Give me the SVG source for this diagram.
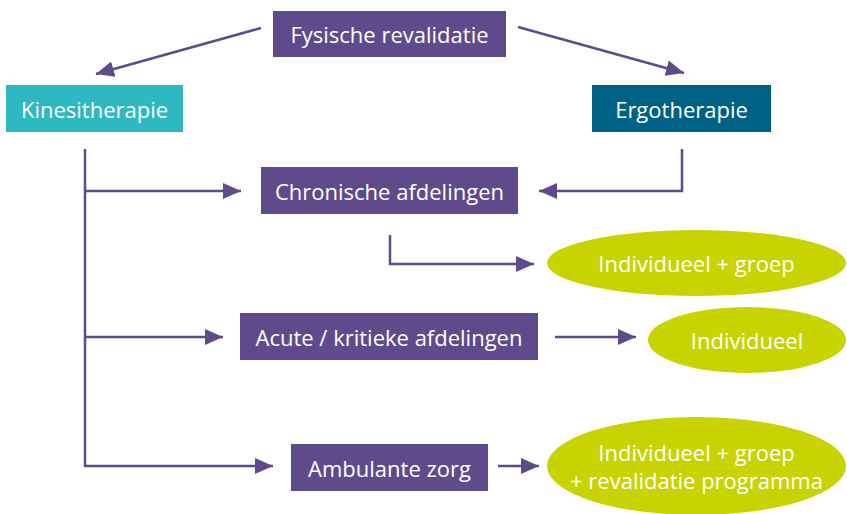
<svg xmlns="http://www.w3.org/2000/svg" width="847" height="514" viewBox="0 0 847 514">
<style>
.lbl{font-family:"Open Sans","Liberation Sans",sans-serif;font-size:22px;fill:#ffffff;text-anchor:middle;dominant-baseline:central}
.box{fill:#5f4b8b}
.ell{fill:#c8d400}
.con{fill:none;stroke:#5f4b8b;stroke-width:2.5;marker-end:url(#ah)}
</style>
<defs>
<marker id="ah" markerUnits="userSpaceOnUse" markerWidth="20" markerHeight="16" refX="18" refY="8" orient="auto">
<path d="M0,0 L18,8 L0,16 Z" fill="#5f4b8b"/>
</marker>
</defs>
<rect width="847" height="514" fill="#ffffff"/>
<g id="connectors">
<path class="con" d="M261,28 L96,74"/>
<path class="con" d="M518,27 L684,73"/>
<path class="con" d="M85,149 L85,466 L273,466"/>
<path class="con" d="M85,191 L241,191"/>
<path class="con" d="M85,337 L223,337"/>
<path class="con" d="M682,149 L682,191 L539,191"/>
<path class="con" d="M390,235 L390,264 L534,264"/>
<path class="con" d="M555,337 L636,337"/>
<path class="con" d="M498,466 L539,466"/>
</g>
<g id="fysische">
<rect class="box" x="273" y="11" width="233" height="46"/>
<text class="lbl" x="389.5" y="34">Fysische revalidatie</text>
</g>
<g id="kinesitherapie">
<rect x="6" y="85" width="177" height="47" fill="#2eb8c2"/>
<text class="lbl" x="94.5" y="108.5">Kinesitherapie</text>
</g>
<g id="ergotherapie">
<rect x="592" y="85" width="179" height="47" fill="#006186"/>
<text class="lbl" x="681.5" y="108.5">Ergotherapie</text>
</g>
<g id="chronische">
<rect class="box" x="261" y="167" width="257" height="47"/>
<text class="lbl" x="389.5" y="190.5">Chronische afdelingen</text>
</g>
<g id="acute">
<rect class="box" x="240" y="313" width="298" height="47"/>
<text class="lbl" x="389" y="336.5">Acute / kritieke afdelingen</text>
</g>
<g id="ambulante">
<rect class="box" x="291" y="444" width="197" height="47"/>
<text class="lbl" x="389.5" y="467.5">Ambulante zorg</text>
</g>
<g id="indiv-groep">
<ellipse class="ell" cx="696.5" cy="263" rx="149.5" ry="33"/>
<text class="lbl" x="696.5" y="263">Individueel + groep</text>
</g>
<g id="indiv">
<ellipse class="ell" cx="747" cy="340" rx="99" ry="33"/>
<text class="lbl" x="747" y="340">Individueel</text>
</g>
<g id="indiv-groep-prog">
<ellipse class="ell" cx="696.5" cy="466" rx="149.5" ry="49"/>
<text class="lbl" x="696.5" y="452">Individueel + groep</text>
<text class="lbl" x="696.5" y="480">+ revalidatie programma</text>
</g>
</svg>
